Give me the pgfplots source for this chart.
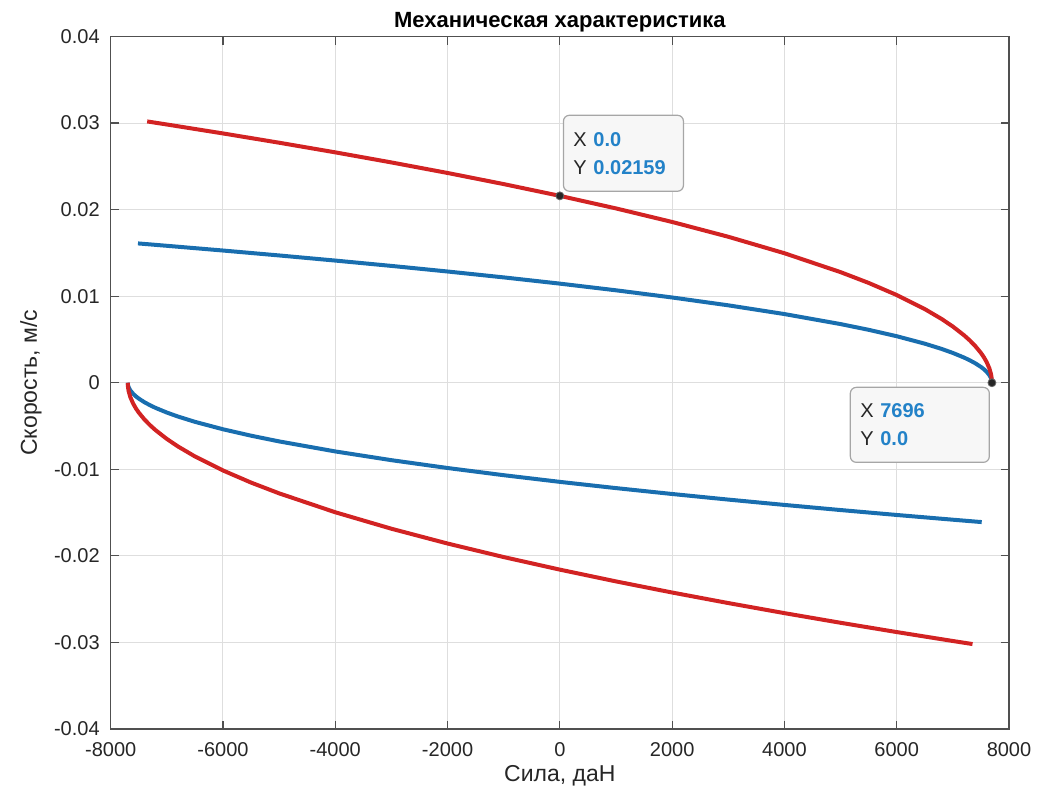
\documentclass[border=0pt]{standalone}
\usepackage{pgfplots}
\usepackage{pgfplotstable}
\pgfplotsset{compat=1.18}
\usepackage{fontspec}
\setmainfont{Liberation Sans}

\definecolor{curvered}{RGB}{210,35,35}
\definecolor{curveblue}{RGB}{25,110,175}
\definecolor{tipblue}{RGB}{35,130,200}
\definecolor{axisgray}{RGB}{80,80,80}
\definecolor{gridgray}{RGB}{222,222,222}

% Upper branches (positive speed)
\pgfplotstableread{
F v
-7350 0.030188
-7000 0.029835
-6000 0.028802
-5000 0.027730
-4000 0.026616
-3000 0.025452
-2000 0.024234
-1000 0.022950
0 0.02159
1000 0.020139
2000 0.018574
3000 0.016865
4000 0.014962
5000 0.012778
5500 0.011533
6000 0.010135
6500 0.008511
6800 0.007367
7000 0.006493
7200 0.005481
7300 0.004898
7400 0.004234
7500 0.003446
7550 0.002974
7600 0.002411
7650 0.001669
7680 0.000985
7690 0.000603
7694 0.000348
7696 0
}\redup

\pgfplotstableread{
F v
-7514 0.016097
-7000 0.015822
-6000 0.015275
-5000 0.014706
-4000 0.014115
-3000 0.013498
-2000 0.012852
-1000 0.012171
0 0.01145
1000 0.010680
2000 0.009850
3000 0.008944
4000 0.007935
5000 0.006777
5500 0.006116
6000 0.005375
6500 0.004514
6800 0.003907
7000 0.003443
7200 0.002907
7300 0.002597
7400 0.002246
7500 0.001827
7550 0.001577
7600 0.001279
7650 0.000885
7680 0.000522
7690 0.000320
7694 0.000185
7696 0
}\blueup

% Lower branches (negative speed)
\pgfplotstableread{
F v
-7696 0
-7694 -0.000348
-7690 -0.000603
-7680 -0.000985
-7650 -0.001669
-7600 -0.002411
-7550 -0.002974
-7500 -0.003446
-7400 -0.004234
-7300 -0.004898
-7200 -0.005481
-7000 -0.006493
-6800 -0.007367
-6500 -0.008511
-6000 -0.010135
-5500 -0.011533
-5000 -0.012778
-4000 -0.014962
-3000 -0.016865
-2000 -0.018574
-1000 -0.020139
0 -0.02159
1000 -0.022950
2000 -0.024234
3000 -0.025452
4000 -0.026616
5000 -0.027730
6000 -0.028802
7000 -0.029835
7350 -0.030188
}\reddown

\pgfplotstableread{
F v
-7696 0
-7694 -0.000185
-7690 -0.000320
-7680 -0.000522
-7650 -0.000885
-7600 -0.001279
-7550 -0.001577
-7500 -0.001827
-7400 -0.002246
-7300 -0.002597
-7200 -0.002907
-7000 -0.003443
-6800 -0.003907
-6500 -0.004514
-6000 -0.005375
-5500 -0.006116
-5000 -0.006777
-4000 -0.007935
-3000 -0.008944
-2000 -0.009850
-1000 -0.010680
0 -0.01145
1000 -0.012171
2000 -0.012852
3000 -0.013498
4000 -0.014115
5000 -0.014706
6000 -0.015275
7000 -0.015822
7514 -0.016097
}\bluedown

\begin{document}
\begin{tikzpicture}
\useasboundingbox (-55.35pt,-36pt) rectangle (463.65pt,364.5pt);
\begin{axis}[
  scale only axis,
  width=449.15pt, height=346.25pt,
  xmin=-8000, xmax=8000,
  ymin=-0.04, ymax=0.04,
  xtick={-8000,-6000,-4000,-2000,0,2000,4000,6000,8000},
  xticklabels={-8000,-6000,-4000,-2000,0,2000,4000,6000,8000},
  ytick={-0.04,-0.03,-0.02,-0.01,0,0.01,0.02,0.03,0.04},
  yticklabels={-0.04,-0.03,-0.02,-0.01,0,0.01,0.02,0.03,0.04},
  scaled y ticks=false,
  tick align=inside,
  major tick length=4pt,
  tick style={axisgray, line width=0.6pt},
  axis line style={axisgray, line width=0.6pt},
  grid=major,
  major grid style={gridgray, line width=0.5pt},
  ticklabel style={font=\fontsize{10}{12}\selectfont, text=black!85},
  xticklabel style={yshift=-3.4pt},
  yticklabel style={xshift=-2pt},
  title={Механическая характеристика},
  title style={font=\fontsize{11}{13}\selectfont\bfseries, at={(axis description cs:0.5,1)}, anchor=base, yshift=-1.25pt},
  xlabel={Сила, даН},
  xlabel style={font=\fontsize{11.5}{13}\selectfont, at={(axis description cs:0.5,-0.0765)}, anchor=base, text=black!85},
  ylabel={Скорость, м/с},
  ylabel style={font=\fontsize{11.5}{13}\selectfont, at={(axis description cs:-0.0822,0.5)}, anchor=base, text=black!85},
  clip=false,
]
\addplot[curveblue, line width=2pt] table[x=F, y=v] {\blueup};
\addplot[curveblue, line width=2pt] table[x=F, y=v] {\bluedown};
\addplot[curvered, line width=2pt] table[x=F, y=v] {\redup};
\addplot[curvered, line width=2pt] table[x=F, y=v] {\reddown};

% data tips
\addplot[only marks, mark=*, mark size=2pt, mark options={fill=black!85, draw=black!60}]
  coordinates {(0,0.02159)}
  node[anchor=south west, xshift=1.5pt, yshift=2pt, draw=black!35, fill=black!3, rounded corners=3pt,
       line width=0.6pt, text width=50pt, minimum height=38pt, inner xsep=5pt, inner ysep=8pt, align=left,
       font=\fontsize{10}{14}\selectfont, text=black!85]
  {X \textcolor{tipblue}{\bfseries 0.0}\\Y \textcolor{tipblue}{\bfseries 0.02159}};
\addplot[only marks, mark=*, mark size=2pt, mark options={fill=black!85, draw=black!60}]
  coordinates {(7696,0)}
  node[anchor=north east, xshift=-1pt, yshift=-2pt, draw=black!35, fill=black!3, rounded corners=3pt,
       line width=0.6pt, text width=59.5pt, minimum height=37.5pt, inner xsep=5pt, inner ysep=8pt, align=left,
       font=\fontsize{10}{14}\selectfont, text=black!85]
  {X \textcolor{tipblue}{\bfseries 7696}\\Y \textcolor{tipblue}{\bfseries 0.0}};
\end{axis}
\end{tikzpicture}
\end{document}
